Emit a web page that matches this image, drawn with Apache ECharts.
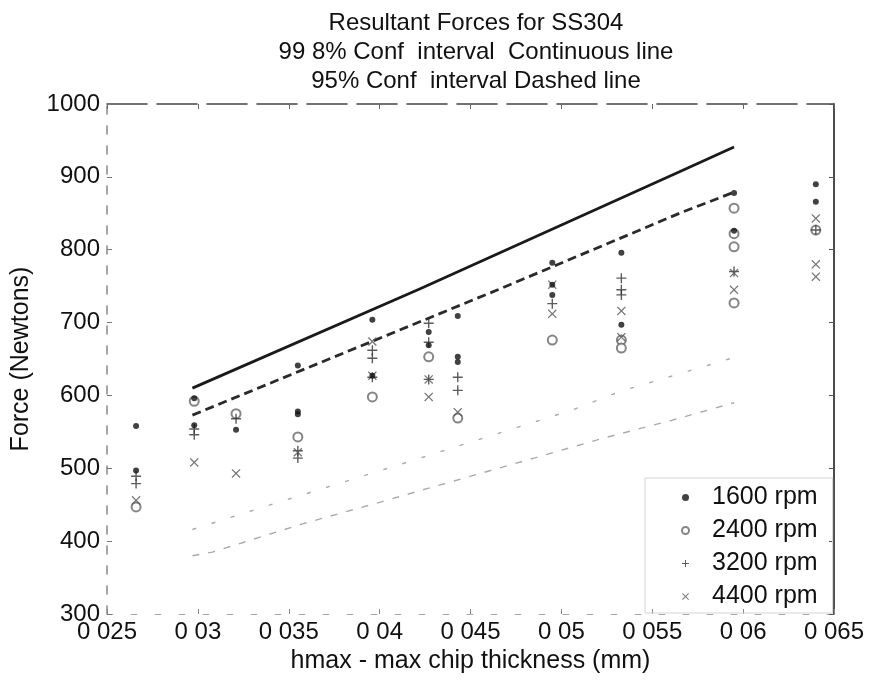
<!DOCTYPE html>
<html>
<head>
<meta charset="utf-8">
<title>Resultant Forces for SS304</title>
<script src="https://cdn.jsdelivr.net/npm/echarts@6/dist/echarts.min.js"></script>
<style>
  html, body { margin: 0; padding: 0; background: #fff; }
  #chart { width: 870px; height: 687px; }
</style>
</head>
<body>
<div id="chart"></div>
<script>
// Max chip thickness of each cut (mm)
const hmax = [0.0266, 0.0298, 0.0321, 0.0355, 0.0396, 0.0427, 0.0443, 0.0495, 0.0533, 0.0595, 0.0640];

// Measured resultant force (N) at each hmax, per spindle speed
const force1600 = [[558, 497], [596, 559], [553], [641, 578, 574], [704, 627], [687, 669], [709, 653, 646], [782, 752, 738], [796, 697], [878, 826], [890, 866]];
const force2400 = [[447], [592], [575], [543], [598], [653], [569], [676], [676, 665], [857, 822, 804, 727], [827]];
const force3200 = [[489, 479], [554, 546], [568], [524, 514], [662, 651, 625], [699, 673, 622], [625, 607], [726], [761, 745, 738], [770], [827]];
const force4400 = [[456], [508], [493], [522], [674, 627], [622, 598], [577], [712, 752], [716, 680], [768, 745], [843, 780, 763]];

// Confidence interval bounds: [hmax, force]
const upper998 = [[0.0297, 610], [0.0422, 746], [0.0565, 907], [0.0595, 941]];
const upper95 = [[0.0297, 573], [0.0465, 745], [0.0565, 850], [0.0595, 879]];
const lower95 = [[0.0297, 416], [0.0344, 453], [0.0416, 509], [0.0506, 580], [0.0533, 606], [0.0595, 652]];
const lower998 = [[0.0297, 380], [0.0308, 385], [0.0358, 424], [0.0401, 454], [0.0426, 472], [0.0485, 514], [0.0524, 542], [0.0561, 566], [0.0595, 590]];

const seriesNames = ['1600 rpm', '2400 rpm', '3200 rpm', '4400 rpm'];
const xTickLabels = ['0 025', '0 03', '0 035', '0 04', '0 045', '0 05', '0 055', '0 06', '0 065'];
const yTickLabels = ['300', '400', '500', '600', '700', '800', '900', '1000'];

const FONT = '"Liberation Sans", Arial, Helvetica, sans-serif';
const X_MIN = 0.025, X_STEP = 0.005;
const Y_MIN = 300, Y_STEP = 100;

function points(cols) {
  const out = [];
  cols.forEach((vals, i) => vals.forEach(v => out.push([hmax[i], v])));
  return out;
}

const PLUS = 'path://M4.3,0H5.7V4.3H10V5.7H5.7V10H4.3V5.7H0V4.3H4.3Z';
const CROSS = 'path://M0,1L1,0L5,4L9,0L10,1L6,5L10,9L9,10L5,6L1,10L0,9L4,5Z';

const chart = echarts.init(document.getElementById('chart'));

chart.setOption({
  animation: false,
  backgroundColor: '#fff',
  textStyle: { fontFamily: FONT },
  title: {
    text: 'Resultant Forces for SS304\n99 8% Conf  interval  Continuous line\n95% Conf  interval Dashed line',
    left: 471,
    top: 4,
    textAlign: 'center',
    textStyle: { fontFamily: FONT, fontSize: 24, fontWeight: 'normal', color: '#111', lineHeight: 29 }
  },
  grid: { left: 107, right: 36, top: 104, bottom: 73, containLabel: false },
  legend: {
    data: seriesNames,
    orient: 'vertical',
    left: 645,
    top: 478,
    itemWidth: 7,
    itemHeight: 7,
    itemGap: 8,
    padding: [7, 15, 4, 36],
    borderColor: '#d4d4d4',
    borderWidth: 1,
    textStyle: { fontFamily: FONT, fontSize: 25, color: '#111', lineHeight: 25, padding: [0, 0, 0, 18] }
  },
  xAxis: [{
    type: 'value',
    min: X_MIN, max: 0.065, interval: X_STEP,
    position: 'bottom',
    name: 'hmax - max chip thickness (mm)',
    nameLocation: 'middle',
    nameGap: 35,
    nameTextStyle: { fontFamily: FONT, fontSize: 25, color: '#111' },
    axisLine: { show: true, lineStyle: { color: '#aaa', width: 1, type: [6, 18] } },
    axisTick: { show: true, inside: true, length: 5, lineStyle: { color: '#888' } },
    axisLabel: {
      fontFamily: FONT, fontSize: 24, color: '#111', margin: 6,
      formatter: v => xTickLabels[Math.round((v - X_MIN) / X_STEP)]
    },
    splitLine: { show: false }
  }, {
    type: 'value',
    min: X_MIN, max: 0.065, interval: X_STEP,
    position: 'top',
    axisLine: { show: true, lineStyle: { color: '#444', width: 1.5, type: [40, 10] } },
    axisTick: { show: true, inside: true, length: 5, lineStyle: { color: '#666' } },
    axisLabel: { show: false },
    splitLine: { show: false }
  }],
  yAxis: [{
    type: 'value',
    min: Y_MIN, max: 1000, interval: Y_STEP,
    position: 'left',
    name: 'Force (Newtons)',
    nameLocation: 'middle',
    nameGap: 73,
    nameTextStyle: { fontFamily: FONT, fontSize: 25, color: '#111' },
    axisLine: { show: true, lineStyle: { color: '#888', width: 1.5, type: [8, 12] } },
    axisTick: { show: true, inside: true, length: 5, lineStyle: { color: '#777' } },
    axisLabel: {
      fontFamily: FONT, fontSize: 24, color: '#111', margin: 7,
      formatter: v => yTickLabels[Math.round((v - Y_MIN) / Y_STEP)]
    },
    splitLine: { show: false }
  }, {
    type: 'value',
    min: Y_MIN, max: 1000, interval: Y_STEP,
    position: 'right',
    axisLine: { show: true, lineStyle: { color: '#111', width: 1.5 } },
    axisTick: { show: true, inside: true, length: 5, lineStyle: { color: '#555' } },
    axisLabel: { show: false },
    splitLine: { show: false }
  }],
  series: [
    {
      name: 'upper 99.8%', type: 'line', data: upper998, symbol: 'none', silent: true,
      lineStyle: { color: '#1a1a1a', width: 2.8, type: 'solid' }, z: 3
    },
    {
      name: 'upper 95%', type: 'line', data: upper95, symbol: 'none', silent: true,
      lineStyle: { color: '#2a2a2a', width: 2.8, type: [9, 5] }, z: 3
    },
    {
      name: 'lower 95%', type: 'line', data: lower95, symbol: 'none', silent: true,
      lineStyle: { color: '#aaa', width: 1.4, type: [4, 16] }, z: 2
    },
    {
      name: 'lower 99.8%', type: 'line', data: lower998, symbol: 'none', silent: true,
      lineStyle: { color: '#aaa', width: 1.4, type: [7, 9] }, z: 2
    },
    {
      name: seriesNames[0], type: 'scatter', data: points(force1600),
      symbol: 'circle', symbolSize: 6,
      itemStyle: { color: '#111' }, z: 5
    },
    {
      name: seriesNames[1], type: 'scatter', data: points(force2400),
      symbol: 'emptyCircle', symbolSize: 9,
      itemStyle: { color: '#666', borderColor: '#666', borderWidth: 1 }, z: 4
    },
    {
      name: seriesNames[2], type: 'scatter', data: points(force3200),
      symbol: PLUS, symbolSize: 10,
      itemStyle: { color: '#333' }, z: 4
    },
    {
      name: seriesNames[3], type: 'scatter', data: points(force4400),
      symbol: CROSS, symbolSize: 9,
      itemStyle: { color: '#555' }, z: 4
    }
  ]
});
</script>
</body>
</html>
